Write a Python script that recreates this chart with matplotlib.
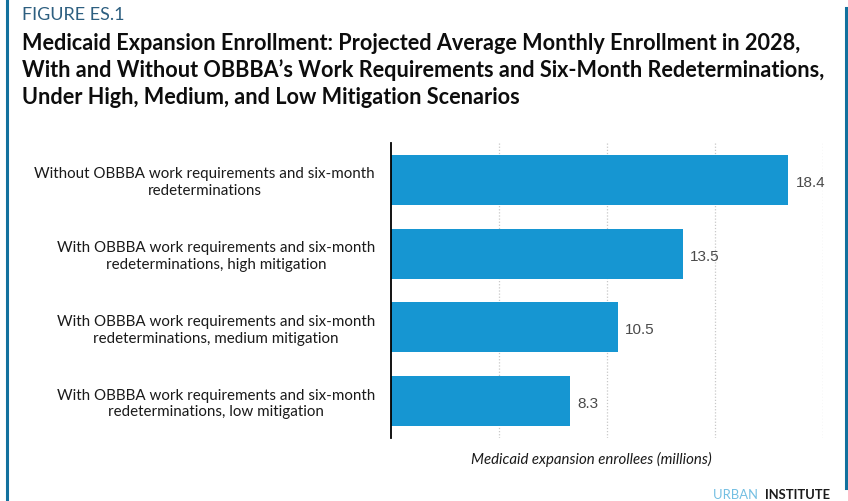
import matplotlib.pyplot as plt
from matplotlib.lines import Line2D

# data
categories = [
    "Without OBBBA work requirements and six-month\nredeterminations",
    "With OBBBA work requirements and six-month\nredeterminations, high mitigation",
    "With OBBBA work requirements and six-month\nredeterminations, medium mitigation",
    "With OBBBA work requirements and six-month\nredeterminations, low mitigation",
]
enrollees = [18.4, 13.5, 10.5, 8.3]
grid_ticks = [5, 10, 15, 20]

BAR_BLUE = "#1696d2"
DARK_BLUE = "#12719e"

plt.rcParams['font.family'] = ['Lato', 'DejaVu Sans']

fig = plt.figure(figsize=(8.48, 5.01), dpi=100)
ax = fig.add_axes([391 / 848, 1 - 438 / 501, (823 - 391) / 848, (438 - 143) / 501])

ypos = list(range(len(categories)))
ax.barh(ypos, enrollees, height=0.675, color=BAR_BLUE, zorder=2)
for y, v in zip(ypos, enrollees):
    ax.text(v + 0.33, y + 0.04, f"{v:.1f}", va='center', ha='left',
            fontsize=11, color='#4a4a4a', family='Liberation Sans')

ax.set_xlim(0, 20)
ax.set_ylim(3.5, -0.5)
ax.set_xticks(grid_ticks)
ax.set_xticklabels([])
ax.tick_params(axis='x', length=0)
ax.set_yticks(ypos)
ax.set_yticklabels(categories, fontsize=10.9, ha='right', multialignment='center',
                   color='#1a1a1a', linespacing=1.25)
ax.tick_params(axis='y', length=0, pad=11.5)
ax.grid(axis='x', color='#c8c8c8', linestyle=(0, (1, 1.5)), linewidth=0.9, zorder=0)
for s in ['top', 'right', 'bottom']:
    ax.spines[s].set_visible(False)
ax.spines['left'].set_color('black')
ax.spines['left'].set_linewidth(1.3)
ax.spines['left'].set_zorder(3)

# x label
fig.text(591 / 848, 1 - 459 / 501, "Medicaid expansion enrollees (millions)",
         ha='center', va='center', fontsize=10.8, style='italic', color='#1a1a1a')

# title block
fig.text(22 / 848, 1 - 15 / 501, "FIGURE ES.1", ha='left', va='center',
         fontsize=13, color='#2d5f80')
title_lines = [
    "Medicaid Expansion Enrollment: Projected Average Monthly Enrollment in 2028,",
    "With and Without OBBBA\u2019s Work Requirements and Six-Month Redeterminations,",
    "Under High, Medium, and Low Mitigation Scenarios",
]
for i, line in enumerate(title_lines):
    fig.text(22 / 848, 1 - (43 + 27 * i) / 501, line, ha='left', va='center',
             fontsize=15.6, fontweight='bold', color='#0d0d0d')

# credit
t1 = fig.text(1 - 18 / 848, 1 - 495 / 501, "INSTITUTE", ha='right', va='center',
              fontsize=9.4, fontweight='bold', color='#1a1a1a')
fig.canvas.draw()
bb = t1.get_window_extent()
fig.text(bb.x0 / fig.bbox.width - 0.004, 1 - 495 / 501, "URBAN ", ha='right', va='center',
         fontsize=9.4, color='#73bfe2')

# frame lines
fig.add_artist(Line2D([7 / 848, 7 / 848], [0, 1], color=DARK_BLUE, linewidth=2.2,
                      transform=fig.transFigure))
fig.add_artist(Line2D([846 / 848, 846 / 848], [1 - 488 / 501, 1 - 8 / 501], color=DARK_BLUE,
                      linewidth=2.2, transform=fig.transFigure))

fig.savefig("out.png", dpi=100)
